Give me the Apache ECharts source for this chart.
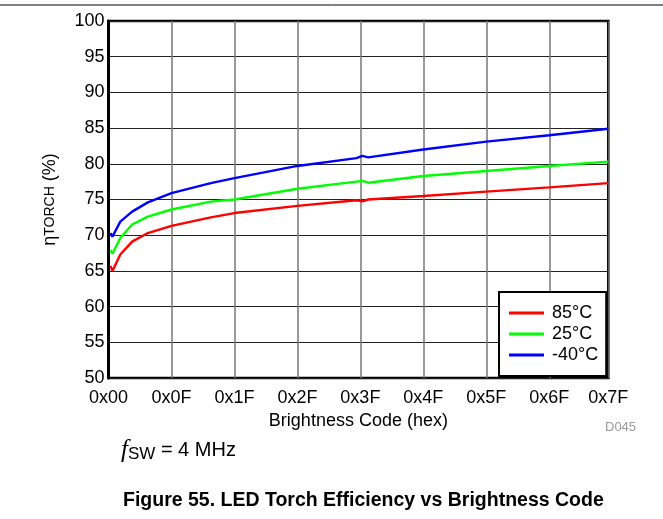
<!DOCTYPE html>
<html>
<head>
<meta charset="utf-8">
<script src="https://cdn.jsdelivr.net/npm/echarts@6/dist/echarts.min.js"></script>
<style>
  html, body { margin: 0; padding: 0; background: #fff; }
  #chart { width: 663px; height: 519px; }
</style>
</head>
<body>
<div id="chart"></div>
<script>
// * Brightness code positions (axis units, gridlines every 16)
const codes = [0.5, 1, 3, 6, 10, 16, 26, 32, 48, 63, 64.5, 66, 80, 96, 112, 127];
// * Efficiency (%) per temperature
const eff85 = [65.7, 65.0, 67.3, 69.1, 70.3, 71.3, 72.5, 73.1, 74.1, 74.9, 74.75, 75.0, 75.5, 76.1, 76.7, 77.3];
const eff25 = [67.9, 67.4, 69.6, 71.5, 72.6, 73.6, 74.7, 75.0, 76.5, 77.5, 77.6, 77.35, 78.3, 79.0, 79.7, 80.3];
const effM40 = [70.3, 69.8, 71.9, 73.3, 74.6, 75.9, 77.3, 78.0, 79.7, 80.8, 81.1, 80.9, 82.0, 83.1, 84.0, 84.9];
// * Tick labels
const xTickLabels = ["0x00", "0x0F", "0x1F", "0x2F", "0x3F", "0x4F", "0x5F", "0x6F", "0x7F"];
const seriesNames = ["85°C", "25°C", "-40°C"];
const seriesColors = ["#ff0000", "#00ff00", "#0000ff"];

const font = "Arial, 'Liberation Sans', sans-serif";

function pairs(ys) {
  return codes.map((c, i) => [c, ys[i]]);
}

const chart = echarts.init(document.getElementById("chart"), null, { renderer: "canvas" });

const option = {
  backgroundColor: "#fff",
  animation: false,
  textStyle: { fontFamily: font },
  grid: {
    left: 108.5,
    right: 54.7,
    top: 21,
    bottom: 141,
    show: true,
    borderColor: "#000",
    borderWidth: 2.5,
  },
  xAxis: {
    type: "value",
    min: 0,
    max: 127,
    interval: 16,
    name: "Brightness Code (hex)",
    nameLocation: "middle",
    nameGap: 32,
    nameTextStyle: { fontSize: 18, color: "#000", fontFamily: font },
    axisLine: { show: false },
    axisTick: { show: false },
    axisLabel: {
      fontSize: 18,
      color: "#000",
      margin: 11,
      showMaxLabel: true,
      formatter: (v, i) => xTickLabels[i],
    },
    splitLine: { show: true, lineStyle: { color: "#777", width: 1.5 } },
  },
  yAxis: {
    type: "value",
    min: 50,
    max: 100,
    interval: 5,
    name: "{eta|η}{sub|TORCH}{eta| (%)}",
    nameLocation: "middle",
    nameGap: 49,
    nameTextStyle: {
      rich: {
        eta: { fontSize: 18, color: "#000", fontFamily: font },
        sub: { fontSize: 14, color: "#000", fontFamily: font },
      },
    },
    axisLine: { show: true, lineStyle: { color: "#000", width: 3 } },
    axisTick: { show: false },
    axisLabel: { fontSize: 18, color: "#000", margin: 4 },
    splitLine: { show: true, lineStyle: { color: "#222", width: 1 } },
  },
  legend: {
    orient: "vertical",
    left: 499,
    top: 292,
    padding: [12, 8, 12, 10],
    itemGap: 3,
    itemWidth: 35,
    itemHeight: 3,
    icon: "rect",
    backgroundColor: "#fff",
    borderColor: "#000",
    borderWidth: 2,
    borderRadius: 0,
    textStyle: { fontSize: 18, color: "#000", fontFamily: font, padding: [0, 0, 0, 3] },
    data: seriesNames,
  },
  graphic: [
    {
      type: "line",
      shape: { x1: 0, y1: 5, x2: 663, y2: 5 },
      style: { stroke: "#000", lineWidth: 1 },
    },
    {
      type: "text",
      left: 605,
      top: 421,
      style: { text: "D045", fontSize: 13, fill: "#999", fontFamily: font },
    },
    {
      type: "text",
      left: 121,
      top: 438,
      style: {
        text: "{f|f}{sub|SW}{t| = 4 MHz}",
        rich: {
          f: { fontSize: 25, fontStyle: "italic", fontFamily: "'Liberation Serif', serif", fill: "#000" },
          sub: { fontSize: 17, fontFamily: font, fill: "#000", verticalAlign: "bottom" },
          t: { fontSize: 20, fontFamily: font, fill: "#000" },
        },
      },
    },
    {
      type: "text",
      left: 123,
      top: 491,
      style: {
        text: "Figure 55. LED Torch Efficiency vs Brightness Code",
        fontSize: 19.5,
        fontWeight: "bold",
        fill: "#000",
        fontFamily: font,
      },
    },
  ],
  series: [eff85, eff25, effM40].map((ys, i) => ({
    name: seriesNames[i],
    type: "line",
    data: pairs(ys),
    showSymbol: false,
    symbol: "none",
    smooth: false,
    lineStyle: { color: seriesColors[i], width: 2.4 },
    itemStyle: { color: seriesColors[i] },
    z: 3 + i,
  })),
};

chart.setOption(option);
</script>
</body>
</html>
